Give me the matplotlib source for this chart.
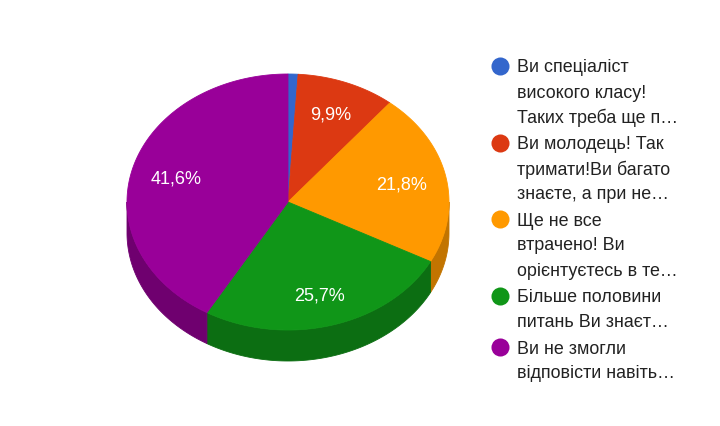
import numpy as np
import matplotlib
matplotlib.use("Agg")
import matplotlib.pyplot as plt
from matplotlib.patches import Polygon

# ---- data ----
values = [1.0, 9.9, 21.8, 25.7, 41.6]
labels = [
    "Ви спеціаліст\nвисокого класу!\nТаких треба ще п…",
    "Ви молодець! Так\nтримати!Ви багато\nзнаєте, а при не…",
    "Ще не все\nвтрачено! Ви\nорієнтуєтесь в те…",
    "Більше половини\nпитань Ви знаєт…",
    "Ви не змогли\nвідповісти навіть…",
]
colors = ["#3366cc", "#dc3912", "#ff9900", "#109618", "#990099"]
side_colors = ["#264c99", "#a52b0e", "#c27400", "#0c6e12", "#6f006f"]

plt.rcParams['font.family'] = ['Liberation Sans', 'DejaVu Sans']

W, H = 720, 426
fig = plt.figure(figsize=(W / 100, H / 100), dpi=100)
ax = fig.add_axes([0, 0, 1, 1])
ax.set_xlim(0, W)
ax.set_ylim(H, 0)
ax.axis('off')

cx, cy, rx, ry, depth = 288, 202, 161, 128, 31

def pt(t):
    return cx + rx * np.sin(t), cy - ry * np.cos(t)

total = sum(values)
fracs = np.cumsum([0] + values) / total
angles = fracs * 2 * np.pi

# sides (front half only: t in [pi/2, 3pi/2])
for i in range(len(values)):
    a0, a1 = angles[i], angles[i + 1]
    lo, hi = max(a0, np.pi / 2), min(a1, 3 * np.pi / 2)
    if hi <= lo:
        continue
    t = np.linspace(lo, hi, 200)
    x, y = pt(t)
    xs = np.concatenate([x, x[::-1]])
    ys = np.concatenate([y, (y + depth)[::-1]])
    ax.add_patch(Polygon(np.column_stack([xs, ys]), closed=True,
                         facecolor=side_colors[i], edgecolor=side_colors[i],
                         linewidth=0.6))

# tops
for i in range(len(values)):
    a0, a1 = angles[i], angles[i + 1]
    t = np.linspace(a0, a1, 300)
    x, y = pt(t)
    xs = np.concatenate([[cx], x])
    ys = np.concatenate([[cy], y])
    ax.add_patch(Polygon(np.column_stack([xs, ys]), closed=True,
                         facecolor=colors[i], edgecolor=colors[i],
                         linewidth=0.6))

# percentage labels
for i, v in enumerate(values):
    if v < 5:
        continue
    tm = (angles[i] + angles[i + 1]) / 2
    lx = cx + 0.72 * rx * np.sin(tm)
    ly = cy - 0.75 * ry * np.cos(tm)
    ax.text(lx, ly, f"{v:.1f}%".replace('.', ','), color='white',
            fontsize=13, ha='center', va='center_baseline')

# legend
ly0 = 66
line_h = 25
gap = 1.5
for i, lab in enumerate(labels):
    lines = lab.split("\n")
    ax.plot([500], [ly0], marker='o', markersize=13, color=colors[i],
            markeredgewidth=0)
    for k, ln in enumerate(lines):
        ax.text(517, ly0 + k * line_h, ln, color='#222222', fontsize=12.9,
                ha='left', va='center_baseline')
    ly0 += len(lines) * line_h + gap

fig.savefig("out.png", dpi=100, facecolor='white')
